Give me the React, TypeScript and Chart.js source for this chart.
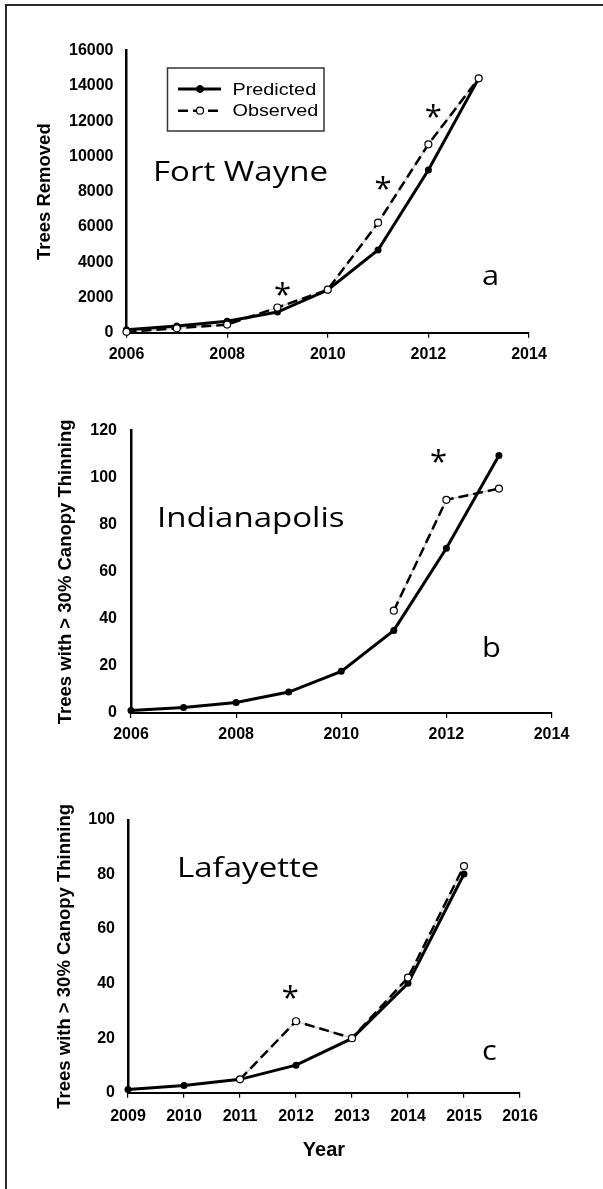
import React, { useEffect, useRef } from 'react';
import { Chart, registerables } from 'chart.js';

Chart.register(...registerables);

// ---------- Panel a: Fort Wayne ----------
const yearsA = [2006, 2007, 2008, 2009, 2010, 2011, 2012, 2013];
const predictedA = [170, 380, 650, 1170, 2420, 4690, 9230, 14430];
const observedA = [50, 250, 460, 1430, 2440, 6240, 10690, 14430];
const xTicksA = [2006, 2008, 2010, 2012, 2014];
const yTicksA = [0, 2000, 4000, 6000, 8000, 10000, 12000, 14000, 16000];
const starXA = [2009.1, 2011.1, 2012.1];
const starYA = [2600, 8600, 12700];

// ---------- Panel b: Indianapolis ----------
const yearsB = [2006, 2007, 2008, 2009, 2010, 2011, 2012, 2013];
const predictedB = [1.1, 2.3, 4.5, 8.9, 17.7, 35.1, 70, 109.5];
const observedB: (number | null)[] = [null, null, null, null, null, 43.5, 90.6, 95.4];
const xTicksB = [2006, 2008, 2010, 2012, 2014];
const yTicksB = [0, 20, 40, 60, 80, 100, 120];
const starXB = [2011.85];
const starYB = [110];

// ---------- Panel c: Lafayette ----------
const yearsC = [2009, 2010, 2011, 2012, 2013, 2014, 2015];
const predictedC = [1.2, 2.6, 4.9, 10.1, 19.9, 40.1, 80.2];
const observedC: (number | null)[] = [null, null, 4.9, 26.2, 20, 42.2, 83.1];
const xTicksC = [2009, 2010, 2011, 2012, 2013, 2014, 2015, 2016];
const yTicksC = [0, 20, 40, 60, 80, 100];
const starXC = [2011.9];
const starYC = [37.7];

const seriesNames = ['Predicted', 'Observed'];
const yTitleA = 'Trees Removed';
const yTitleBC = 'Trees with > 30% Canopy Thinning';
const xTitleC = 'Year';

const SANS = '"Liberation Sans", Arial, sans-serif';
const LABEL_FONT = '"Open Sans", "Noto Sans", sans-serif';

type Panel = {
  top: number;
  height: number;
  years: number[];
  predicted: (number | null)[];
  observed: (number | null)[];
  xTicks: number[];
  yTicks: number[];
  starX: number[];
  starY: number[];
  yTitle: string;
  xTitle?: string;
  padding: { left: number; top: number; right: number; bottom: number };
  yWidth: number;
  xHeight: number;
  xPad: number;
  yPad: number;
  city: string;
  cityPos: [number, number];
  letter: string;
  letterPos: [number, number];
  legend?: boolean;
};

const panels: Panel[] = [
  {
    top: 10, height: 370,
    years: yearsA, predicted: predictedA, observed: observedA,
    xTicks: xTicksA, yTicks: yTicksA, starX: starXA, starY: starYA,
    yTitle: yTitleA,
    padding: { left: 35.75, top: 40.7, right: 74, bottom: 7.3 },
    yWidth: 90.75, xHeight: 40, xPad: 7, yPad: 13,
    city: 'Fort Wayne', cityPos: [153, 171],
    letter: 'a', letterPos: [482, 275],
    legend: true,
  },
  {
    top: 380, height: 385,
    years: yearsB, predicted: predictedB, observed: observedB,
    xTicks: xTicksB, yTicks: yTicksB, starX: starXB, starY: starYB,
    yTitle: yTitleBC,
    padding: { left: 56.75, top: 50.7, right: 51.5, bottom: 12 },
    yWidth: 74.25, xHeight: 40, xPad: 7, yPad: 14,
    city: 'Indianapolis', cityPos: [157, 147],
    letter: 'b', letterPos: [482, 277],
  },
  {
    top: 765, height: 424,
    years: yearsC, predicted: predictedC, observed: observedC,
    xTicks: xTicksC, yTicks: yTicksC, starX: starXC, starY: starYC,
    yTitle: yTitleBC, xTitle: xTitleC,
    padding: { left: 55.75, top: 55, right: 83, bottom: 29 },
    yWidth: 72.25, xHeight: 67.3, xPad: 9.7, yPad: 13,
    city: 'Lafayette', cityPos: [177, 112],
    letter: 'c', letterPos: [482, 295],
  },
];

function toPoints(xs: number[], ys: (number | null)[]) {
  const out: { x: number; y: number }[] = [];
  xs.forEach((x, i) => {
    const y = ys[i];
    if (y !== null && y !== undefined) out.push({ x, y });
  });
  return out;
}

function stretchText(ctx: CanvasRenderingContext2D, text: string, x: number, y: number, sx: number) {
  ctx.save();
  ctx.translate(x, y);
  ctx.scale(sx, 1);
  ctx.fillText(text, 0, 0);
  ctx.restore();
}

function makeOverlay(p: Panel) {
  return {
    id: 'overlay',
    afterDatasetsDraw(chart: any) {
      const ctx = chart.ctx as CanvasRenderingContext2D;
      const xs = chart.scales.x;
      const ys = chart.scales.y;
      ctx.save();
      ctx.fillStyle = '#000';
      // panel name and letter
      ctx.font = `28px ${LABEL_FONT}`;
      ctx.textAlign = 'left';
      ctx.textBaseline = 'alphabetic';
      stretchText(ctx, p.city, p.cityPos[0], p.cityPos[1], 1.18);
      stretchText(ctx, p.letter, p.letterPos[0], p.letterPos[1], 1.1);
      // asterisks
      ctx.font = `31px ${LABEL_FONT}`;
      ctx.textAlign = 'center';
      p.starX.forEach((sx, i) => {
        ctx.fillText('*', xs.getPixelForValue(sx), ys.getPixelForValue(p.starY[i]) + 18);
      });
      // legend
      if (p.legend) {
        const bx = 167.5, by = 58, bw = 156.5, bh = 63;
        ctx.fillStyle = '#fff';
        ctx.fillRect(bx, by, bw, bh);
        ctx.strokeStyle = '#333';
        ctx.lineWidth = 1.5;
        ctx.strokeRect(bx, by, bw, bh);
        const dsObs = chart.data.datasets[0];
        const dsPred = chart.data.datasets[1];
        const rows = [
          { ds: dsPred, y: 79, base: 85, name: seriesNames[0] },
          { ds: dsObs, y: 100.7, base: 106, name: seriesNames[1] },
        ];
        rows.forEach((r) => {
          ctx.save();
          ctx.strokeStyle = r.ds.borderColor;
          ctx.lineWidth = r.ds.borderWidth;
          ctx.setLineDash(r.ds.borderDash || []);
          ctx.beginPath();
          ctx.moveTo(178, r.y);
          ctx.lineTo(221, r.y);
          ctx.stroke();
          ctx.setLineDash([]);
          ctx.beginPath();
          ctx.arc(200, r.y, r.ds.pointRadius, 0, Math.PI * 2);
          ctx.fillStyle = r.ds.pointBackgroundColor;
          ctx.fill();
          ctx.lineWidth = r.ds.pointBorderWidth || 1;
          ctx.strokeStyle = r.ds.pointBorderColor;
          ctx.stroke();
          ctx.restore();
          ctx.fillStyle = '#000';
          ctx.font = `16.5px ${SANS}`;
          ctx.textAlign = 'left';
          ctx.textBaseline = 'alphabetic';
          stretchText(ctx, r.name, 232.5, r.base, 1.2);
        });
      }
      ctx.restore();
    },
  };
}

function makeConfig(p: Panel): any {
  const obs = toPoints(p.years, p.observed);
  const pred = toPoints(p.years, p.predicted);
  return {
    type: 'line',
    data: {
      datasets: [
        {
          label: seriesNames[1],
          data: obs,
          borderColor: '#000',
          borderWidth: 2.5,
          borderDash: [10, 5],
          pointRadius: 3.5,
          pointBackgroundColor: '#fff',
          pointBorderColor: '#000',
          pointBorderWidth: 1.2,
          tension: 0,
          fill: false,
          order: 0,
          clip: false,
        },
        {
          label: seriesNames[0],
          data: pred,
          borderColor: '#000',
          borderWidth: 3,
          pointRadius: 3.5,
          pointBackgroundColor: '#000',
          pointBorderColor: '#000',
          pointBorderWidth: 0,
          tension: 0,
          fill: false,
          order: 1,
          clip: false,
        },
        {
          label: 'observed-gap',
          data: obs,
          borderColor: '#cfcfcf',
          borderWidth: 1.5,
          pointRadius: 0,
          tension: 0,
          fill: false,
          order: 2,
          clip: false,
        },
      ],
    },
    options: {
      animation: false,
      responsive: false,
      events: [],
      layout: { padding: p.padding },
      plugins: { legend: { display: false }, tooltip: { enabled: false } },
      scales: {
        x: {
          type: 'linear',
          min: p.xTicks[0],
          max: p.xTicks[p.xTicks.length - 1],
          afterBuildTicks: (s: any) => {
            s.ticks = p.xTicks.map((v) => ({ value: v }));
          },
          afterFit: (s: any) => {
            s.height = p.xHeight;
          },
          ticks: {
            callback: (v: any) => String(v),
            font: { family: SANS, size: 16, weight: 'bold' },
            color: '#000',
            padding: p.xPad,
            maxRotation: 0,
            autoSkip: false,
          },
          grid: {
            display: true,
            drawOnChartArea: false,
            drawTicks: true,
            tickLength: 5,
            color: '#000',
            lineWidth: 1.2,
          },
          border: { display: true, color: '#000', width: 2 },
          title: p.xTitle
            ? {
                display: true,
                text: p.xTitle,
                color: '#000',
                font: { family: SANS, size: 20, weight: 'bold', lineHeight: 1 },
                padding: 0,
              }
            : { display: false },
        },
        y: {
          type: 'linear',
          min: p.yTicks[0],
          max: p.yTicks[p.yTicks.length - 1],
          afterBuildTicks: (s: any) => {
            s.ticks = p.yTicks.map((v) => ({ value: v }));
          },
          afterFit: (s: any) => {
            s.width = p.yWidth;
          },
          ticks: {
            callback: (v: any) => String(v),
            font: { family: SANS, size: 16, weight: 'bold' },
            color: '#000',
            padding: p.yPad,
          },
          grid: { display: true, drawOnChartArea: false, drawTicks: false },
          border: { display: true, color: '#000', width: 2.5 },
          title: {
            display: true,
            text: p.yTitle,
            color: '#000',
            font: { family: SANS, size: 18.5, weight: 'bold', lineHeight: 1 },
            padding: 0,
          },
        },
      },
    },
    plugins: [makeOverlay(p)],
  };
}

function PanelChart({ p }: { p: Panel }) {
  const ref = useRef<HTMLCanvasElement | null>(null);
  useEffect(() => {
    if (!ref.current) return;
    const chart = new Chart(ref.current, makeConfig(p));
    return () => chart.destroy();
  }, [p]);
  return (
    <canvas
      ref={ref}
      width={603}
      height={p.height}
      style={{
        position: 'absolute',
        left: 0,
        top: p.top,
        width: '603px',
        height: `${p.height}px`,
        display: 'block',
      }}
    />
  );
}

export default function App() {
  return (
    <div
      style={{
        position: 'absolute',
        left: 0,
        top: 0,
        width: 603,
        height: 1189,
        overflow: 'hidden',
        background: '#fff',
      }}
    >
      <div
        style={{
          position: 'absolute',
          left: 5,
          top: 4,
          width: 700,
          height: 1300,
          borderTop: '2px solid #2a2a2a',
          borderLeft: '2px solid #2a2a2a',
        }}
      />
      {panels.map((p, i) => (
        <PanelChart key={i} p={p} />
      ))}
    </div>
  );
}
